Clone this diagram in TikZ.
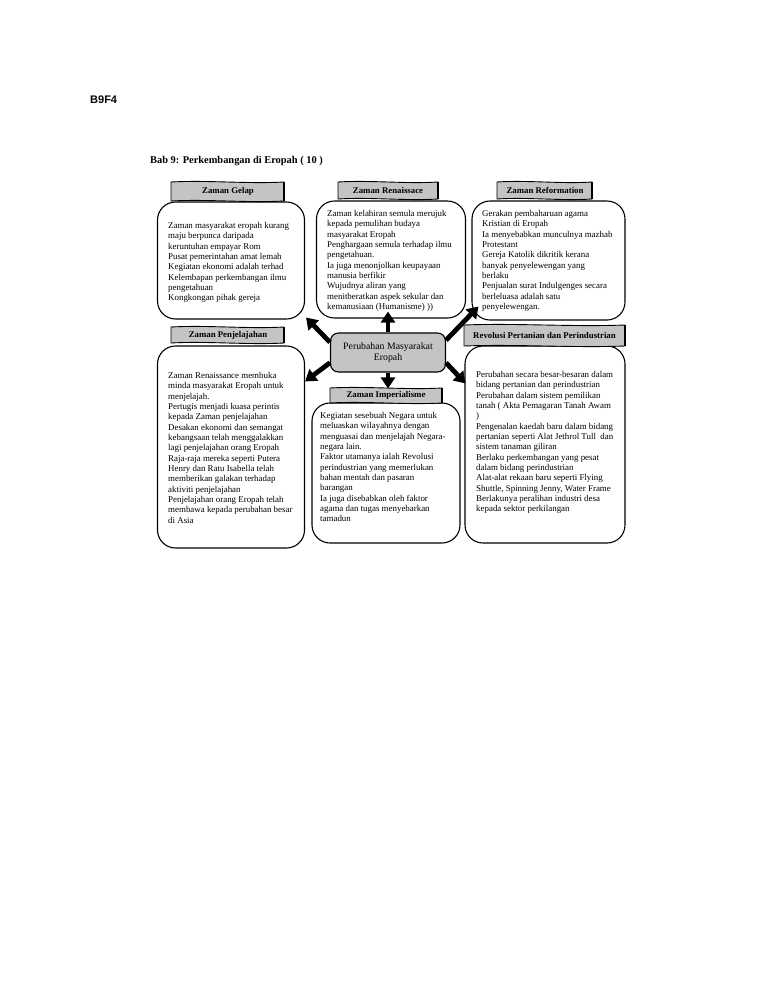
\documentclass[tikz,border=0pt]{standalone}
\usepackage{fontspec}
\setmainfont{Liberation Serif}
\newfontfamily\labelsans{Liberation Sans}
\usetikzlibrary{arrows.meta,calc}
\definecolor{tabgray}{RGB}{196,196,196}
\newcommand\tabflag[4]{%
  \path[tabshape] (#1,#2) .. controls ($(#1,#2)!.33!(#3,#2)+(0,-2)$) and ($(#1,#2)!.67!(#3,#2)+(0,2)$) .. (#3,#2)
    -- (#3,#4) .. controls ($(#3,#4)!.33!(#1,#4)+(0,2)$) and ($(#3,#4)!.67!(#1,#4)+(0,-2)$) .. (#1,#4) -- cycle;
  \draw[line width=1.6pt] (#3,#2) -- (#3,#4);}
\begin{document}
\begin{tikzpicture}[x=1pt,y=-1pt,
  boxstyle/.style={draw, line width=1.1pt, rounded corners=18pt, fill=white, inner sep=0pt},
  tabshape/.style={draw, line width=0.9pt, fill=tabgray},
  tabtext/.style={font=\fontsize{8.8}{10}\selectfont\bfseries, inner sep=0pt},
  bodytext/.style={font=\fontsize{8.9}{10.35}\selectfont, align=left, anchor=north west, inner sep=0pt},
  centerbox/.style={draw, line width=1.1pt, rounded corners=8pt, fill=tabgray, align=center,
     minimum width=115pt, minimum height=39pt, inner sep=0pt, font=\fontsize{9.8}{10.5}\selectfont},
  bigarrow/.style={line width=4.8pt, -{Triangle[width=14pt,length=11pt]}}]
\useasboundingbox[fill=white] (0,0) rectangle (768,994);

% headings
\node[font=\labelsans\bfseries\fontsize{11}{13}\selectfont, anchor=west, inner sep=0pt] (code) at (90,100) {B9F4};
\node[font=\fontsize{10.4}{12}\selectfont\bfseries, anchor=west, inner sep=0pt] (title) at (150,161) {Bab 9: Perkembangan di Eropah ( 10 )};

% boxes
\node[boxstyle, minimum width=147pt, minimum height=117pt] (gelap) at (231,260.5) {};
\node[boxstyle, minimum width=149pt, minimum height=117pt] (ren) at (391,259.5) {};
\node[boxstyle, minimum width=153pt, minimum height=119pt] (ref) at (548.5,260.5) {};
\node[boxstyle, minimum width=147pt, minimum height=202pt] (pen) at (231,447) {};
\node[boxstyle, minimum width=148pt, minimum height=140pt] (imp) at (386,473) {};
\node[boxstyle, minimum width=160pt, minimum height=197pt] (rev) at (545,444.5) {};

% tabs
\tabflag{171}{182}{284}{201}
\tabflag{338}{182}{438}{199}
\tabflag{497}{182}{592}{199}
\tabflag{171}{327}{284}{343}
\tabflag{330}{388}{442}{403}
\tabflag{464}{325}{625}{346}
\node[tabtext] (tgelap) at (228,191.5) {Zaman Gelap};
\node[tabtext] (tren) at (388,190.5) {Zaman Renaissace};
\node[tabtext] (tref) at (545,190.5) {Zaman Reformation};
\node[tabtext] (tpen) at (228,335) {Zaman Penjelajahan};
\node[tabtext] (timp) at (386,395.5) {Zaman Imperialisme};
\node[tabtext] (trev) at (544.5,335.5) {Revolusi Pertanian dan Perindustrian};

% body texts
\node[bodytext] (xgelap) at (168,222) {Zaman masyarakat eropah kurang\\
maju berpunca daripada\\
keruntuhan empayar Rom\\
Pusat pemerintahan amat lemah\\
Kegiatan ekonomi adalah terhad\\
Kelembapan perkembangan ilmu\\
pengetahuan\\
Kongkongan pihak gereja};

\node[bodytext] (xren) at (327,210) {Zaman kelahiran semula merujuk\\
kepada pemulihan budaya\\
masyarakat Eropah\\
Penghargaan semula terhadap ilmu\\
pengetahuan.\\
Ia juga menonjolkan keupayaan\\
manusia berfikir\\
Wujudnya aliran yang\\
menitberatkan aspek sekular dan\\
kemanusiaan (Humanisme) ))};

\node[bodytext] (xref) at (482,210) {Gerakan pembaharuan agama\\
Kristian di Eropah\\
Ia menyebabkan munculnya mazhab\\
Protestant\\
Gereja Katolik dikritik kerana\\
banyak penyelewengan yang\\
berlaku\\
Penjualan surat Indulgenges secara\\
berleluasa adalah satu\\
penyelewengan.};

\node[bodytext] (xpen) at (168,372) {Zaman Renaissance membuka\\
minda masyarakat Eropah untuk\\
menjelajah.\\
Pertugis menjadi kuasa perintis\\
kepada Zaman penjelajahan\\
Desakan ekonomi dan semangat\\
kebangsaan telah menggalakkan\\
lagi penjelajahan orang Eropah\\
Raja-raja mereka seperti Putera\\
Henry dan Ratu Isabella telah\\
memberikan galakan terhadap\\
aktiviti penjelajahan\\
Penjelajahan orang Eropah telah\\
membawa kepada perubahan besar\\
di Asia};

\node[bodytext] (ximp) at (320,412) {Kegiatan sesebuah Negara untuk\\
meluaskan wilayahnya dengan\\
menguasai dan menjelajah Negara-\\
negara lain.\\
Faktor utamanya ialah Revolusi\\
perindustrian yang memerlukan\\
bahan mentah dan pasaran\\
barangan\\
Ia juga disebabkan oleh faktor\\
agama dan tugas menyebarkan\\
tamadun};

\node[bodytext] (xrev) at (476,371) {Perubahan secara besar-besaran dalam\\
bidang pertanian dan perindustrian\\
Perubahan dalam sistem pemilikan\\
tanah ( Akta Pemagaran Tanah Awam\\
)\\
Pengenalan kaedah baru dalam bidang\\
pertanian seperti Alat Jethrol Tull~ dan\\
sistem tanaman giliran\\
Berlaku perkembangan yang pesat\\
dalam bidang perindustrian\\
Alat-alat rekaan baru seperti Flying\\
Shuttle, Spinning Jenny, Water Frame\\
Berlakunya peralihan industri desa\\
kepada sektor perkilangan};

% centre
\node[centerbox] (c) at (388,352.5) {Perubahan Masyarakat\\Eropah};

% arrows
\draw[bigarrow] (c.170) -- ([xshift=1pt,yshift=2pt]gelap.south east);
\draw[bigarrow] (c.north) -- ($(c.north |- ren.south)+(0,-7)$);
\draw[bigarrow] (c.12) -- ($(ref.south west)+(7,-14)$);
\draw[bigarrow] (c.190) -- ($(pen.north east)+(0,36)$);
\draw[bigarrow] (c.south) -- ($(c.south |- imp.north)+(0,-14)$);
\draw[bigarrow] (c.-10) -- ($(rev.north west)+(1,38)$);
\end{tikzpicture}
\end{document}
